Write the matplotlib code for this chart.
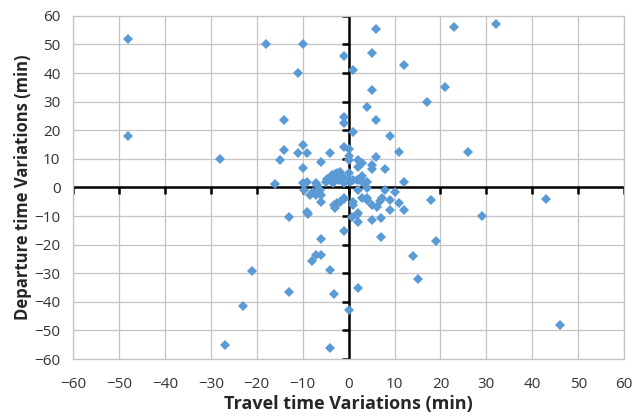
import matplotlib
matplotlib.use("Agg")
import matplotlib.pyplot as plt
import numpy as np

travel_time = [
    -48, -48, -28, -18, -10, -11, -1, 1, 6, 5, 12, 32, 23, 21, 17, 26, 5, 4, -14, -1, -1, 6, 1, 9,
    -10, -14, -11, -9, -4, -1, 0, 11, -15, 0, 6, 0, 2, 3, -6, 5, 5, -10, 2, 8, -16, 12,
    -10, -9, -7, -6.8, -5, -4.7, -3.7, -3, -2.5, -1.8, -1, -1.5, 0, 0, 0.3, 1, 1.8, 2.9, 3, 4,
    -3.3, -2.9, -1.1, -2, 2.5, 3.6,
    8, 10, 2, 4, -9.8, -8.4, -7.7, -6.2, -7.2, -6, -6, -3.2, -2.6, -1.9, -1, -1.1, -2.9,
    0.9, 0.9, 2.9, 4, 4, 2.1, 0.8, 1.8, 2.1, 5, 5, 6.1, 6.9, 7.2, 7.1, 9, 9, 11, 12,
    -13, -9, -8.8, -1, -6, 7.1, -7, -6, -8, -21, -4, 14, 15, -13, 2, -3.1, -23, 0, -27, -4,
    18, 29, 19, 43, 46,
]
departure_time = [
    52, 18, 10, 50, 50, 40, 46, 41, 55.5, 47, 43, 57, 56, 35, 30, 12.5, 34, 28, 23.5, 24.8, 22.5, 23.5, 19.5, 18,
    15, 13, 12.2, 12, 12, 14.3, 13.5, 12.3, 9.7, 11, 10.8, 9.7, 9.6, 8.6, 9, 8, 6.5, 6.7, 7.2, 6.5, 1.2, 1.8,
    1.6, 1.8, 1.6, 1, 1.8, 3, 4.3, 4.8, 5.2, 5.4, 3.4, 3.8, 5, 2.6, 2, 2.6, 2.5, 4, 2, 1.8,
    1.5, 3.1, 1.5, 2.6, 2.6, 1.7,
    -1, -1.6, -0.9, -0.3, -0.9, -2.6, -1.5, -0.9, -2.6, -2.6, -5, -6.2, -5.5, -5, -4, -3.6, -7.3,
    -5, -6.1, -3.8, -3.8, -4.4, -9, -10.2, -9.6, -12.2, -11.4, -6.1, -6.7, -4.6, -3.8, -10.8, -8, -4.5, -5.3, -8,
    -10.3, -8.5, -9.2, -15.2, -18, -17.2, -23.7, -23.5, -25.6, -29.2, -28.8, -24, -32, -36.6, -35.2, -37.2, -41.4, -43, -55.2, -56,
    -4.5, -10, -18.7, -4, -48,
]
x_ticks = list(range(-60, 61, 10))
y_ticks = list(range(-60, 61, 10))
x_label = "Travel time Variations (min)"
y_label = "Departure time Variations (min)"

plt.rcParams['font.family'] = ['Open Sans', 'DejaVu Sans']

fig = plt.figure(figsize=(6.35, 4.18), dpi=100)
ax = fig.add_axes([0.115, 0.141, 0.868, 0.821])
ax.set_xlim(-60, 60)
ax.set_ylim(-60, 60)
ax.set_xticks(x_ticks)
ax.set_yticks(y_ticks)
ax.tick_params(length=0, labelsize=11, colors='#333333')
ax.tick_params(axis='x', pad=13)
ax.tick_params(axis='y', pad=9)
ax.grid(True, color='#c4c4c4', lw=0.9)
ax.set_axisbelow(True)
for s in ax.spines.values():
    s.set_color('#c4c4c4')
    s.set_linewidth(0.9)

ax.axhline(0, color='black', lw=1.8, zorder=2)
ax.axvline(0, color='black', lw=1.8, zorder=2)
ax.plot(x_ticks, [0] * len(x_ticks), linestyle='none', marker=3, markersize=5,
        markeredgewidth=1.8, color='black', zorder=2)
ax.plot([0] * len(y_ticks), y_ticks, linestyle='none', marker=0, markersize=5,
        markeredgewidth=1.8, color='black', zorder=2)

ax.plot(travel_time, departure_time, linestyle='none', marker='D', markersize=5,
        color='#5B9BD5', markeredgewidth=0, zorder=3)

ax.set_xlabel(x_label, fontsize=13, fontweight='bold', color='#262626', labelpad=2)
ax.set_ylabel(y_label, fontsize=12, fontweight='bold', color='#262626', labelpad=2)

fig.savefig('out.png', dpi=100)
